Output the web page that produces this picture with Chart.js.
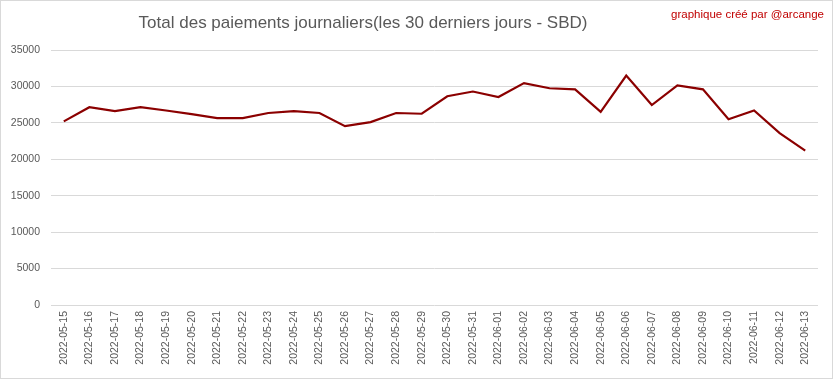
<!DOCTYPE html>
<html>
<head>
<meta charset="utf-8">
<script src="https://cdn.jsdelivr.net/npm/chart.js@4/dist/chart.umd.min.js"></script>
<style>
  html, body { margin: 0; padding: 0; background: #fff; }
  #wrap { position: relative; width: 833px; height: 379px; box-sizing: border-box; border: 1px solid #d9d9d9; }
  canvas { display: block; }
</style>
</head>
<body>
<div id="wrap"><canvas id="paiements" width="831" height="377"></canvas></div>
<script>
const dates = [
  '2022-05-15', '2022-05-16', '2022-05-17', '2022-05-18', '2022-05-19', '2022-05-20',
  '2022-05-21', '2022-05-22', '2022-05-23', '2022-05-24', '2022-05-25', '2022-05-26',
  '2022-05-27', '2022-05-28', '2022-05-29', '2022-05-30', '2022-05-31', '2022-06-01',
  '2022-06-02', '2022-06-03', '2022-06-04', '2022-06-05', '2022-06-06', '2022-06-07',
  '2022-06-08', '2022-06-09', '2022-06-10', '2022-06-11', '2022-06-12', '2022-06-13'
];
const paiements = [
  25200, 27150, 26600, 27150, 26700, 26200,
  25650, 25650, 26350, 26600, 26350, 24550,
  25100, 26350, 26250, 28650, 29300, 28550,
  30450, 29750, 29600, 26500, 31500, 27450,
  30150, 29600, 25500, 26700, 23600, 21200
];
const titleText = 'Total des paiements journaliers(les 30 derniers jours - SBD)';
const creditText = 'graphique créé par @arcange';

const textPlugin = {
  id: 'texts',
  afterDraw(chart) {
    const ctx = chart.ctx;
    ctx.save();
    ctx.textBaseline = 'middle';
    ctx.textAlign = 'center';
    ctx.fillStyle = '#595959';
    ctx.font = '17px "Liberation Sans", Arial, sans-serif';
    ctx.fillText(titleText, 362, 22);
    ctx.textAlign = 'right';
    ctx.fillStyle = '#c00000';
    ctx.font = '11.5px "Liberation Sans", Arial, sans-serif';
    ctx.fillText(creditText, 823, 14);
    ctx.restore();
  }
};

const ctx = document.getElementById('paiements').getContext('2d');
new Chart(ctx, {
  type: 'line',
  data: {
    labels: dates,
    datasets: [{
      data: paiements,
      borderColor: '#8b0000',
      borderWidth: 2.2,
      pointRadius: 0,
      tension: 0,
      fill: false
    }]
  },
  options: {
    responsive: false,
    animation: false,
    layout: { padding: { top: 49, right: 14, left: 0, bottom: 0 } },
    plugins: { legend: { display: false }, title: { display: false }, tooltip: { enabled: false } },
    scales: {
      x: {
        offset: true,
        grid: { display: false, drawTicks: false },
        border: { display: false },
        ticks: {
          color: '#595959', font: { family: '"Liberation Sans", Arial', size: 10.5 },
          maxRotation: 90, minRotation: 90, autoSkip: false, padding: 6
        },
        afterFit(scale) { scale.height = 73; }
      },
      y: {
        min: 0, max: 35000,
        grid: { color: '#d9d9d9', drawTicks: false },
        border: { display: false },
        ticks: {
          stepSize: 5000, color: '#595959', padding: 11,
          font: { family: '"Liberation Sans", Arial', size: 10.5 },
          callback: (v) => String(v)
        },
        afterFit(scale) { scale.width = 50; }
      }
    }
  },
  plugins: [textPlugin]
});
</script>
</body>
</html>
